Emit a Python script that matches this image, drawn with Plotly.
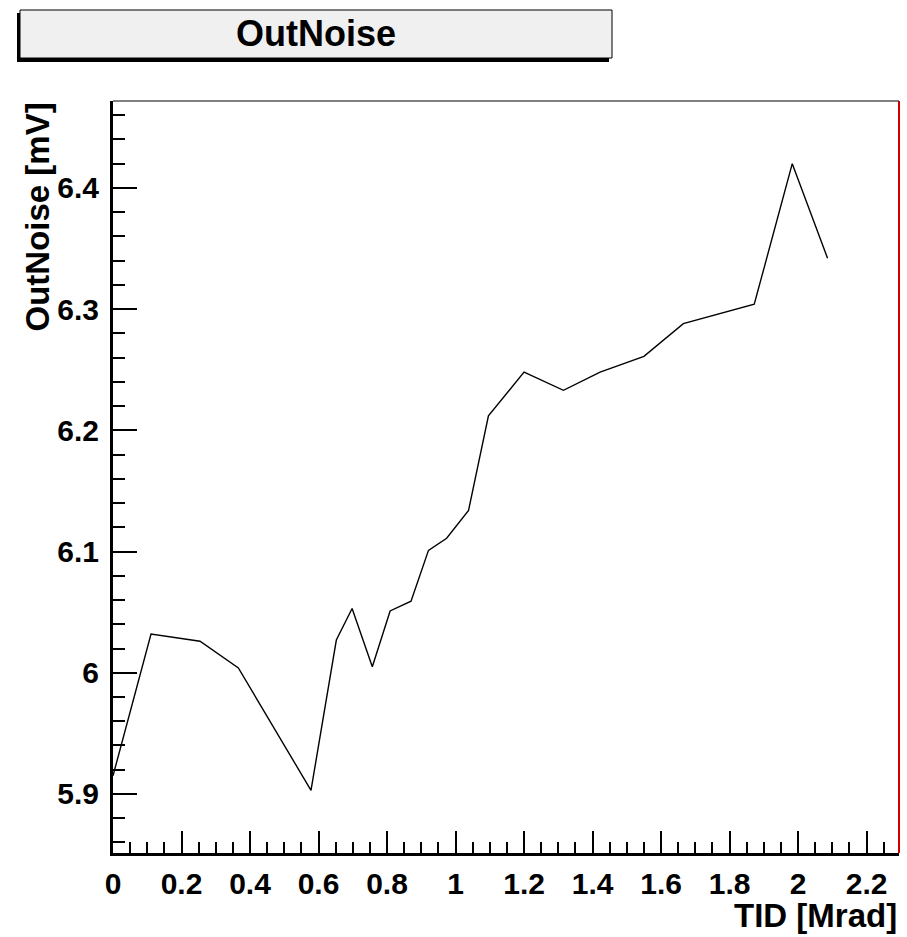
import plotly.graph_objects as go

# Output noise versus total ionising dose
tid_mrad = [0.0, 0.111, 0.254, 0.366, 0.578, 0.652, 0.698, 0.757, 0.809, 0.870, 0.921,
            0.974, 1.038, 1.096, 1.200, 1.315, 1.422, 1.550, 1.665, 1.872, 1.983, 2.086]
out_noise_mv = [5.915, 6.032, 6.026, 6.004, 5.903, 6.027, 6.053, 6.005, 6.051, 6.059, 6.101,
                6.111, 6.134, 6.212, 6.248, 6.233, 6.248, 6.261, 6.288, 6.304, 6.420, 6.342]

title_text = "OutNoise"
x_title = "TID [Mrad]"
y_title = "OutNoise [mV]"

# Axis ranges padded by 10% of the data span (lower x bound clipped at 0)
dx = max(tid_mrad) - min(tid_mrad)
dy = max(out_noise_mv) - min(out_noise_mv)
x_range = [max(0.0, min(tid_mrad) - 0.1 * dx), max(tid_mrad) + 0.1 * dx]
y_range = [min(out_noise_mv) - 0.1 * dy, max(out_noise_mv) + 0.1 * dy]

W, H = 907, 937
ML, MR, MT, MB = 113, 8, 101, 84
PW, PH = W - ML - MR, H - MT - MB


def px_x(p):
    return (p - ML) / PW


def px_y(p):
    return (H - MB - p) / PH


FONT = "Liberation Sans, Arial, Helvetica, sans-serif"

fig = go.Figure()
fig.add_trace(go.Scatter(
    x=tid_mrad, y=out_noise_mv, mode="lines",
    line=dict(color="black", width=1.4),
    hoverinfo="skip", showlegend=False,
))

axis_common = dict(
    showgrid=False, zeroline=False, showline=True, linecolor="black", linewidth=3,
    ticks="inside", tickcolor="black", tickwidth=1.5,
    tickfont=dict(family=FONT, size=30, color="black", weight="bold"),
)

fig.update_xaxes(
    range=x_range, dtick=0.2, tick0=0, ticklen=22,
    minor=dict(dtick=0.05, ticks="inside", ticklen=11, tickcolor="black", tickwidth=1.5),
    ticklabelstandoff=2,
    **axis_common,
)
fig.update_yaxes(
    range=y_range, dtick=0.1, tick0=5.9, ticklen=24,
    minor=dict(dtick=0.02, ticks="inside", ticklen=12, tickcolor="black", tickwidth=1.5),
    ticklabelstandoff=5,
    **axis_common,
)

shapes = [
    # frame: thin top edge, red right edge
    dict(type="line", xref="paper", yref="paper", x0=0, x1=1, y0=1, y1=1,
         line=dict(color="black", width=1)),
    dict(type="line", xref="paper", yref="paper", x0=1, x1=1, y0=0, y1=1,
         line=dict(color="#cc0000", width=2)),
    # title pave shadow and box
    dict(type="rect", xref="paper", yref="paper",
         x0=px_x(17), x1=px_x(609), y0=px_y(62), y1=px_y(13),
         line=dict(width=0), fillcolor="black", layer="above"),
    dict(type="rect", xref="paper", yref="paper",
         x0=px_x(20), x1=px_x(612), y0=px_y(58), y1=px_y(10),
         line=dict(color="black", width=1), fillcolor="#f0f0f0", layer="above"),
]

annotations = [
    dict(text=f"<b>{title_text}</b>", xref="paper", yref="paper",
         x=px_x(316), y=px_y(34), xanchor="center", yanchor="middle",
         showarrow=False, font=dict(family=FONT, size=36, color="black")),
    dict(text=f"<b>{x_title}</b>", xref="paper", yref="paper",
         x=1, y=px_y(916), xanchor="right", yanchor="middle",
         showarrow=False, font=dict(family=FONT, size=33, color="black")),
    dict(text=f"<b>{y_title}</b>", xref="paper", yref="paper",
         x=px_x(37), y=1, xanchor="center", yanchor="top", textangle=-90,
         showarrow=False, font=dict(family=FONT, size=33, color="black")),
]

fig.update_layout(
    width=W, height=H,
    margin=dict(l=ML, r=MR, t=MT, b=MB),
    paper_bgcolor="white", plot_bgcolor="white",
    shapes=shapes, annotations=annotations,
    showlegend=False,
)

fig.write_html("out.html")
